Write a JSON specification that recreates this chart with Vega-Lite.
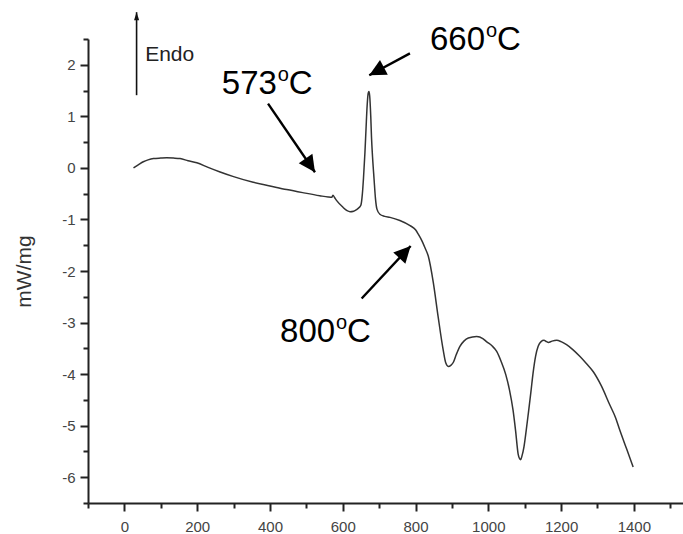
{
  "$schema": "https://vega.github.io/schema/vega-lite/v6.json",
  "width": 595,
  "height": 464,
  "autosize": {"type": "none"},
  "padding": {"left": 88, "top": 39, "right": 0, "bottom": 31},
  "background": "white",
  "config": {"view": {"stroke": null}, "font": "Liberation Sans"},
  "datasets": {
    "curve": [
      {"T": 25, "mW": 0.0}, {"T": 40, "mW": 0.07}, {"T": 52, "mW": 0.12}, {"T": 65, "mW": 0.155},
      {"T": 80, "mW": 0.18}, {"T": 100, "mW": 0.19}, {"T": 116, "mW": 0.195}, {"T": 135, "mW": 0.19},
      {"T": 153, "mW": 0.18}, {"T": 175, "mW": 0.14}, {"T": 199, "mW": 0.10}, {"T": 230, "mW": 0.01},
      {"T": 263, "mW": -0.08}, {"T": 300, "mW": -0.17}, {"T": 354, "mW": -0.28}, {"T": 400, "mW": -0.35},
      {"T": 446, "mW": -0.42}, {"T": 490, "mW": -0.48}, {"T": 537, "mW": -0.54}, {"T": 560, "mW": -0.565},
      {"T": 570, "mW": -0.57}, {"T": 573, "mW": -0.53}, {"T": 578, "mW": -0.58}, {"T": 584, "mW": -0.64},
      {"T": 600, "mW": -0.76}, {"T": 612, "mW": -0.83}, {"T": 620, "mW": -0.85}, {"T": 630, "mW": -0.84},
      {"T": 638, "mW": -0.81}, {"T": 645, "mW": -0.77}, {"T": 650, "mW": -0.72}, {"T": 654, "mW": -0.5},
      {"T": 657, "mW": -0.2}, {"T": 661, "mW": 0.3}, {"T": 664, "mW": 0.76}, {"T": 667, "mW": 1.2},
      {"T": 670, "mW": 1.45}, {"T": 672, "mW": 1.48}, {"T": 674, "mW": 1.4}, {"T": 677, "mW": 1.0},
      {"T": 679, "mW": 0.6}, {"T": 682, "mW": 0.2}, {"T": 686, "mW": -0.21}, {"T": 690, "mW": -0.6},
      {"T": 694, "mW": -0.8}, {"T": 702, "mW": -0.9}, {"T": 715, "mW": -0.94}, {"T": 730, "mW": -0.96},
      {"T": 757, "mW": -1.02}, {"T": 785, "mW": -1.12}, {"T": 800, "mW": -1.2}, {"T": 808, "mW": -1.29},
      {"T": 818, "mW": -1.42}, {"T": 826, "mW": -1.55}, {"T": 835, "mW": -1.71}, {"T": 849, "mW": -2.23},
      {"T": 862, "mW": -2.88}, {"T": 876, "mW": -3.53}, {"T": 883, "mW": -3.78}, {"T": 890, "mW": -3.85},
      {"T": 897, "mW": -3.83}, {"T": 904, "mW": -3.77}, {"T": 912, "mW": -3.62}, {"T": 922, "mW": -3.46},
      {"T": 933, "mW": -3.36}, {"T": 945, "mW": -3.30}, {"T": 968, "mW": -3.27}, {"T": 985, "mW": -3.31},
      {"T": 995, "mW": -3.37}, {"T": 1010, "mW": -3.45}, {"T": 1023, "mW": -3.56}, {"T": 1035, "mW": -3.75},
      {"T": 1048, "mW": -4.01}, {"T": 1058, "mW": -4.3}, {"T": 1068, "mW": -4.70}, {"T": 1075, "mW": -5.1},
      {"T": 1082, "mW": -5.55}, {"T": 1086, "mW": -5.64}, {"T": 1089, "mW": -5.66}, {"T": 1092, "mW": -5.6},
      {"T": 1098, "mW": -5.41}, {"T": 1104, "mW": -5.1}, {"T": 1110, "mW": -4.76}, {"T": 1117, "mW": -4.35},
      {"T": 1123, "mW": -3.98}, {"T": 1130, "mW": -3.65}, {"T": 1137, "mW": -3.46}, {"T": 1145, "mW": -3.37},
      {"T": 1153, "mW": -3.345}, {"T": 1160, "mW": -3.37}, {"T": 1165, "mW": -3.385}, {"T": 1175, "mW": -3.36},
      {"T": 1188, "mW": -3.345}, {"T": 1200, "mW": -3.37}, {"T": 1215, "mW": -3.43}, {"T": 1233, "mW": -3.53},
      {"T": 1252, "mW": -3.66}, {"T": 1270, "mW": -3.8}, {"T": 1288, "mW": -3.95}, {"T": 1310, "mW": -4.22},
      {"T": 1334, "mW": -4.60}, {"T": 1350, "mW": -4.85}, {"T": 1361, "mW": -5.08}, {"T": 1380, "mW": -5.45},
      {"T": 1398, "mW": -5.80}
    ],
    "arrows": [
      {"name": "573", "x": 394.7, "y": 1.247, "x2": 523.7, "y2": -0.084},
      {"name": "660", "x": 784.7, "y": 2.221, "x2": 672.9, "y2": 1.798},
      {"name": "800", "x": 652, "y": -2.533, "x2": 786.6, "y2": -1.514},
      {"name": "Endo", "x": 33.5, "y": 1.41, "x2": 33.5, "y2": 3.02}
    ],
    "labels": [
      {"name": "573", "x": 419, "y": 1.44},
      {"name": "660", "x": 991, "y": 2.28},
      {"name": "800", "x": 579, "y": -3.37}
    ],
    "endo": [
      {"name": "Endo", "x": 57, "y": 2.065}
    ]
  },
  "resolve": {"axis": {"x": "independent", "y": "independent"}},
  "layer": [
    {
      "data": {"name": "curve"},
      "mark": {"type": "line", "interpolate": "monotone", "color": "#333333", "strokeWidth": 1.5},
      "encoding": {
        "x": {
          "field": "T", "type": "quantitative",
          "scale": {"domain": [-100, 1535], "nice": false, "zero": false},
          "axis": {
            "orient": "bottom", "values": [0, 200, 400, 600, 800, 1000, 1200, 1400], "format": "d",
            "title": null, "grid": false, "tickSize": 8, "tickWidth": 2, "tickColor": "#222222",
            "domainColor": "#222222", "domainWidth": 2, "labelFontSize": 15, "labelColor": "#444444",
            "labelPadding": 8, "labelFont": "Liberation Sans"
          }
        },
        "y": {
          "field": "mW", "type": "quantitative",
          "scale": {"domain": [-6.5, 2.5], "nice": false, "zero": false},
          "axis": {
            "orient": "left", "values": [-6, -5, -4, -3, -2, -1, 0, 1, 2],
            "labelExpr": "replace(datum.label, '\u2212', '-')",
            "title": "mW/mg", "grid": false, "tickSize": 8, "tickWidth": 2, "tickColor": "#222222",
            "domainColor": "#222222", "domainWidth": 2, "labelFontSize": 15, "labelColor": "#444444",
            "labelPadding": 5, "labelFont": "Liberation Sans",
            "titleFont": "Liberation Sans", "titleFontSize": 21, "titleFontWeight": "normal",
            "titleColor": "#333333", "titleX": -64, "titleY": 232, "titleAngle": -90,
            "titleAlign": "center", "titleBaseline": "middle"
          }
        }
      }
    },
    {
      "data": {"name": "arrows"},
      "transform": [{"filter": "datum.name !== 'Endo'"}],
      "mark": {"type": "rule", "color": "#000000", "strokeCap": "butt", "strokeWidth": 2.4},
      "encoding": {
        "x": {"field": "x", "type": "quantitative", "axis": null},
        "y": {"field": "y", "type": "quantitative", "axis": null},
        "x2": {"field": "x2"},
        "y2": {"field": "y2"}
      }
    },
    {
      "data": {"name": "arrows"},
      "transform": [{"filter": "datum.name === 'Endo'"}],
      "mark": {"type": "rule", "color": "#111111", "strokeCap": "butt", "strokeWidth": 1.6},
      "encoding": {
        "x": {"field": "x", "type": "quantitative", "axis": null},
        "y": {"field": "y", "type": "quantitative", "axis": null},
        "x2": {"field": "x2"},
        "y2": {"field": "y2"}
      }
    },
    {
      "data": {"name": "arrows"},
      "transform": [{"filter": "datum.name === '573'"}],
      "mark": {"type": "point", "shape": "M0,0L0.5,1L-0.5,1Z", "filled": true, "color": "#000000", "opacity": 1, "strokeWidth": 0, "size": 1100, "angle": 145.5},
      "encoding": {
        "x": {
          "field": "x2", "type": "quantitative",
          "axis": {
            "orient": "bottom", "values": [-100, 100, 300, 500, 700, 900, 1100, 1300, 1500],
            "labels": false, "title": null, "domain": false, "grid": false,
            "tickSize": 5, "tickWidth": 2, "tickColor": "#222222"
          }
        },
        "y": {
          "field": "y2", "type": "quantitative",
          "axis": {
            "orient": "left", "values": [-6.5, -5.5, -4.5, -3.5, -2.5, -1.5, -0.5, 0.5, 1.5, 2.5],
            "labels": false, "title": null, "domain": false, "grid": false,
            "tickSize": 5, "tickWidth": 2, "tickColor": "#222222"
          }
        }
      }
    },
    {
      "data": {"name": "arrows"},
      "transform": [{"filter": "datum.name === '660'"}],
      "mark": {"type": "point", "shape": "M0,0L0.5,1L-0.5,1Z", "filled": true, "color": "#000000", "opacity": 1, "strokeWidth": 0, "size": 1100, "angle": 241.9},
      "encoding": {
        "x": {"field": "x2", "type": "quantitative", "axis": null},
        "y": {"field": "y2", "type": "quantitative", "axis": null}
      }
    },
    {
      "data": {"name": "arrows"},
      "transform": [{"filter": "datum.name === '800'"}],
      "mark": {"type": "point", "shape": "M0,0L0.5,1L-0.5,1Z", "filled": true, "color": "#000000", "opacity": 1, "strokeWidth": 0, "size": 1100, "angle": 43.1},
      "encoding": {
        "x": {"field": "x2", "type": "quantitative", "axis": null},
        "y": {"field": "y2", "type": "quantitative", "axis": null}
      }
    },
    {
      "data": {"name": "arrows"},
      "transform": [{"filter": "datum.name === 'Endo'"}],
      "mark": {"type": "point", "shape": "M0,0L0.32,1L-0.32,1Z", "filled": true, "color": "#111111", "opacity": 1, "strokeWidth": 0, "size": 256, "angle": 0},
      "encoding": {
        "x": {"field": "x2", "type": "quantitative", "axis": null},
        "y": {"field": "y2", "type": "quantitative", "axis": null}
      }
    },
    {
      "data": {"name": "labels"},
      "mark": {"type": "text", "align": "right", "baseline": "alphabetic", "fontSize": 33, "font": "Liberation Sans", "color": "#000000"},
      "encoding": {
        "x": {"field": "x", "type": "quantitative", "axis": null},
        "y": {"field": "y", "type": "quantitative", "axis": null},
        "text": {"field": "name"}
      }
    },
    {
      "data": {"name": "labels"},
      "mark": {"type": "text", "align": "left", "baseline": "alphabetic", "fontSize": 20, "font": "Liberation Sans", "color": "#000000", "dx": 1, "dy": -13, "text": "o"},
      "encoding": {
        "x": {"field": "x", "type": "quantitative", "axis": null},
        "y": {"field": "y", "type": "quantitative", "axis": null}
      }
    },
    {
      "data": {"name": "labels"},
      "mark": {"type": "text", "align": "left", "baseline": "alphabetic", "fontSize": 33, "font": "Liberation Sans", "color": "#000000", "dx": 12, "text": "C"},
      "encoding": {
        "x": {"field": "x", "type": "quantitative", "axis": null},
        "y": {"field": "y", "type": "quantitative", "axis": null}
      }
    },
    {
      "data": {"name": "endo"},
      "mark": {"type": "text", "align": "left", "baseline": "alphabetic", "fontSize": 21, "font": "Liberation Sans", "color": "#222222"},
      "encoding": {
        "x": {"field": "x", "type": "quantitative", "axis": null},
        "y": {"field": "y", "type": "quantitative", "axis": null},
        "text": {"field": "name"}
      }
    }
  ]
}
